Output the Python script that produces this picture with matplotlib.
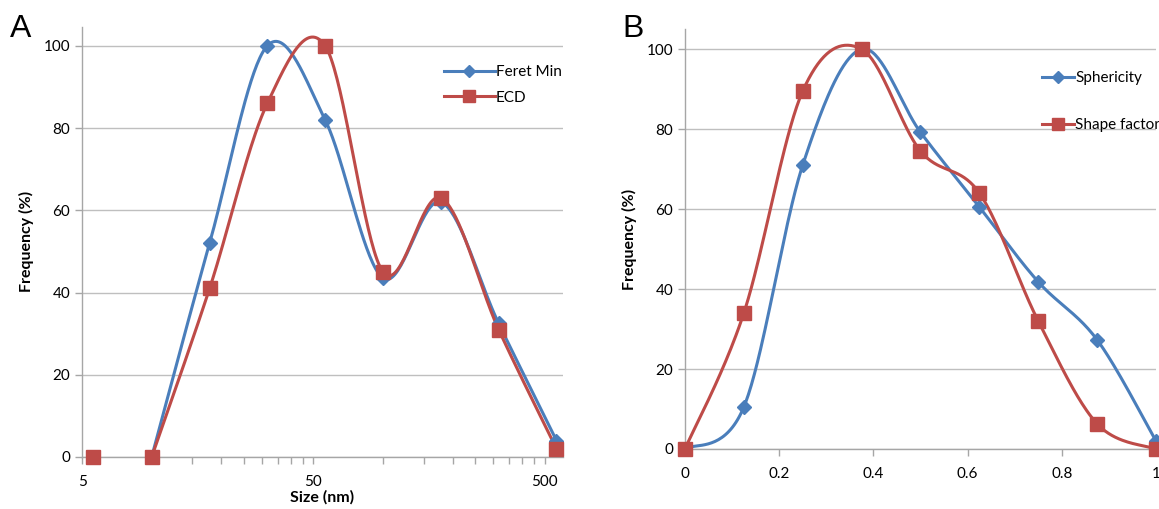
import numpy as np
import matplotlib
matplotlib.use("Agg")
import matplotlib.pyplot as plt
from matplotlib.ticker import FixedLocator, NullFormatter

# ---- data ----
size_nm = [10, 17.8, 31.6, 56.2, 100, 178, 316, 562]
feret_min = [0, 52, 100, 82, 43.5, 62, 32.5, 4]
ecd = [0, 41, 86, 100, 45, 63, 31, 2]
ecd_first_x = [5.6]
ecd_first_y = [0]

shape_x = [0, 0.125, 0.25, 0.375, 0.5, 0.625, 0.75, 0.875, 1.0]
sphericity = [0, 10.5, 71, 100, 79.2, 60.5, 41.8, 27.3, 2]
shape_factor = [0, 34, 89.5, 100, 74.5, 64, 32, 6.3, 0]

blue = "#4a7ebb"
red = "#be4b48"
grey = "#a6a6a6"

plt.rcParams['font.family'] = ['Lato', 'DejaVu Sans']


def smooth(x, y, n=40):
    # catmull-rom like smoothing (Excel "smoothed line")
    x = np.asarray(x, float)
    y = np.asarray(y, float)
    xs, ys = [], []
    for i in range(len(x) - 1):
        i0 = max(i - 1, 0)
        i3 = min(i + 2, len(x) - 1)
        p0 = np.array([x[i0], y[i0]])
        p1 = np.array([x[i], y[i]])
        p2 = np.array([x[i + 1], y[i + 1]])
        p3 = np.array([x[i3], y[i3]])
        c1 = p1 + (p2 - p0) / 6.0
        c2 = p2 - (p3 - p1) / 6.0
        t = np.linspace(0, 1, n)[:, None]
        b = ((1 - t) ** 3) * p1 + 3 * ((1 - t) ** 2) * t * c1 + 3 * (1 - t) * t ** 2 * c2 + t ** 3 * p2
        xs.append(b[:, 0])
        ys.append(b[:, 1])
    return np.concatenate(xs), np.concatenate(ys)


def style_axes(ax):
    for s in ["top", "right"]:
        ax.spines[s].set_visible(False)
    ax.spines["left"].set_color(grey)
    ax.spines["bottom"].set_color(grey)
    ax.spines["left"].set_linewidth(1.0)
    ax.spines["bottom"].set_linewidth(1.0)
    ax.yaxis.grid(True, color="#bfbfbf", linewidth=1.0)
    ax.set_axisbelow(True)
    ax.tick_params(which="both", direction="out", color=grey, length=5, width=1,
                   labelsize=11, labelcolor="black")
    ax.set_yticks([0, 20, 40, 60, 80, 100])


fig = plt.figure(figsize=(11.59, 5.09), dpi=100)

# ---- panel A ----
axA = fig.add_axes([0.0708, 0.1022, 0.415, 0.845])
style_axes(axA)
axA.set_xscale("log")
axA.set_xlim(5, 600)
axA.set_ylim(0, 104.6)
lx, ly = smooth(np.log10(size_nm), feret_min)
axA.plot(10 ** lx, ly, color=blue, lw=2.2, clip_on=False, zorder=3)
axA.plot(size_nm, feret_min, ls="none", marker="D", ms=7, color=blue, clip_on=False, zorder=4)
lx, ly = smooth(np.log10(size_nm), ecd)
axA.plot(10 ** lx, ly, color=red, lw=2.2, clip_on=False, zorder=3)
axA.plot(size_nm, ecd, ls="none", marker="s", ms=9.5, color=red, clip_on=False, zorder=5)
axA.plot(ecd_first_x, ecd_first_y, ls="none", marker="s", ms=9.5, color=red, clip_on=False, zorder=5)
axA.plot([], [], color=blue, lw=2.2, marker="D", ms=6, label="Feret Min")
axA.plot([], [], color=red, lw=2.2, marker="s", ms=9, label="ECD")
hA, lA = axA.get_legend_handles_labels()
axA.legend(hA[-2:], lA[-2:], loc="upper left", bbox_to_anchor=(0.74, 0.925), frameon=False,
           fontsize=11, handlelength=3.3, handletextpad=0.1, labelspacing=0.75, borderaxespad=0)
axA.xaxis.set_major_locator(FixedLocator([5, 50, 500]))
axA.set_xticklabels(["5", "50", "500"])
axA.xaxis.set_minor_locator(FixedLocator([10, 15, 20, 25, 30, 35, 40, 45,
                                          100, 150, 200, 250, 300, 350, 400, 450]))
axA.xaxis.set_minor_formatter(NullFormatter())
axA.tick_params(axis="x", which="major", pad=8)
axA.set_xlabel("Size (nm)", fontsize=11.5, fontweight="bold", labelpad=1)
axA.set_ylabel("Frequency (%)", fontsize=11.5, fontweight="bold", labelpad=7)
fig.text(0.009, 0.927, "A", fontsize=23, family="Liberation Sans")

# ---- panel B ----
axB = fig.add_axes([0.591, 0.1179, 0.4064, 0.825])
style_axes(axB)
axB.set_xlim(0, 1)
axB.set_ylim(0, 105)
sx, sy = smooth(shape_x, sphericity)
axB.plot(sx, sy, color=blue, lw=2.2, clip_on=False, zorder=3)
axB.plot(shape_x, sphericity, ls="none", marker="D", ms=7, color=blue, clip_on=False, zorder=4)
sx, sy = smooth(shape_x, shape_factor)
axB.plot(sx, sy, color=red, lw=2.2, clip_on=False, zorder=3)
axB.plot(shape_x, shape_factor, ls="none", marker="s", ms=9.5, color=red, clip_on=False, zorder=5)
axB.plot([], [], color=blue, lw=2.2, marker="D", ms=6, label="Sphericity")
axB.plot([], [], color=red, lw=2.2, marker="s", ms=9, label="Shape factor")
hB, lB = axB.get_legend_handles_labels()
axB.legend(hB[-2:], lB[-2:], loc="upper left", bbox_to_anchor=(0.744, 0.915), frameon=False,
           fontsize=11, handlelength=2.1, handletextpad=0.1, labelspacing=2.2, borderaxespad=0)
axB.set_xticks([0, 0.2, 0.4, 0.6, 0.8, 1.0])
axB.set_xticklabels(["0", "0.2", "0.4", "0.6", "0.8", "1"])
axB.tick_params(axis="x", pad=8)
axB.set_ylabel("Frequency (%)", fontsize=11.5, fontweight="bold", labelpad=7)
fig.text(0.537, 0.927, "B", fontsize=23, family="Liberation Sans")

fig.savefig("out.png", dpi=100)
